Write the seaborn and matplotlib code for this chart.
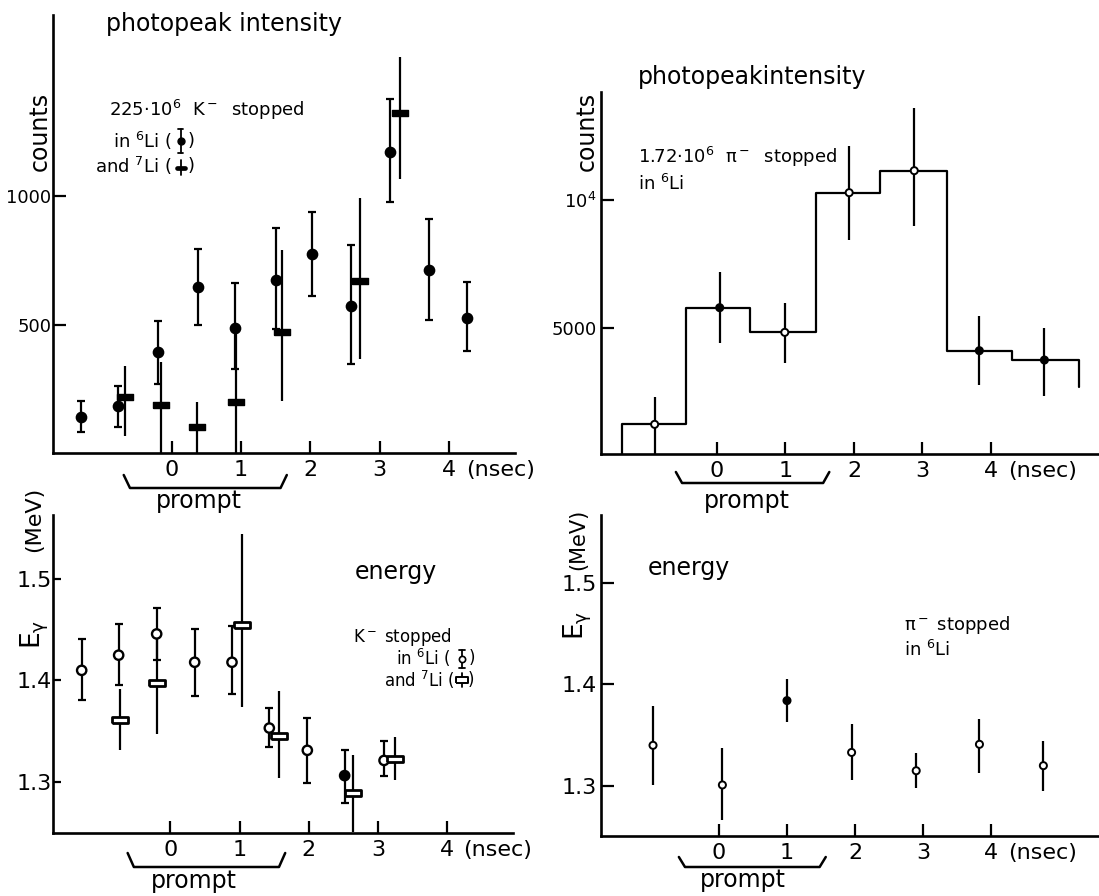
import numpy as np
import pandas as pd
import matplotlib
matplotlib.use("Agg")
import matplotlib.pyplot as plt
import seaborn as sns

# ---------------- data ----------------
tick_vals = [0, 1, 2, 3, 4]
tick_labels = ["0", "1", "2", "3", "4"]

# K- stopped, photopeak intensity, 6Li (filled circles)
k6_t = [-1.30, -0.77, -0.19, 0.38, 0.92, 1.50, 2.02, 2.58, 3.15, 3.71, 4.25]
k6_counts = [141, 184, 392, 648, 487, 674, 775, 574, 1171, 713, 526]
k6_hi = [204, 262, 512, 795, 661, 877, 938, 810, 1379, 912, 665]
k6_lo = [80, 103, 269, 499, 327, 481, 613, 347, 977, 516, 399]

# K- stopped, photopeak intensity, 7Li (thick bars)
k7_t = [-0.67, -0.15, 0.36, 0.93, 1.59, 2.71, 3.29]
k7_counts = [217, 187, 103, 197, 470, 671, 1325]
k7_hi = [340, 356, 200, 505, 791, 992, 1542]
k7_lo = [68, 0, 0, 0, 204, 366, 1068]

# pi- stopped in 6Li, photopeak intensity (histogram)
pi_edges = [-1.385, -0.45, 0.487, 1.446, 2.385, 3.36, 4.31, 5.28]
pi_heights = [1260, 5805, 4844, 10286, 11143, 4130, 3766]
pi_tail = 2730
pi_t = [-0.91, 0.04, 0.99, 1.93, 2.88, 3.83, 4.78]
pi_hi = [2338, 7208, 5974, 12117, 13571, 5480, 5000]
pi_lo = [104, 4416, 3636, 8442, 9000, 2792, 2377]
pi_filled = [False, True, False, False, False, True, True]

# K- stopped, energy, 6Li (open circles)
e6_t = [-1.285, -0.75, -0.20, 0.35, 0.89, 1.43, 1.98, 2.52, 3.09]
e6_E = [1.410, 1.425, 1.446, 1.418, 1.418, 1.353, 1.331, 1.306, 1.321]
e6_hi = [1.441, 1.456, 1.472, 1.451, 1.454, 1.373, 1.363, 1.331, 1.340]
e6_lo = [1.381, 1.396, 1.420, 1.385, 1.387, 1.334, 1.299, 1.279, 1.306]
e6_filled = [False, False, False, False, False, False, False, True, False]

# K- stopped, energy, 7Li (open bars)
e7_t = [-0.73, -0.19, 1.03, 1.57, 2.64, 3.25]
e7_E = [1.361, 1.398, 1.455, 1.345, 1.289, 1.322]
e7_hi = [1.392, 1.451, 1.545, 1.390, 1.326, 1.344]
e7_lo = [1.331, 1.347, 1.374, 1.304, 1.250, 1.302]

# pi- stopped in 6Li, energy
pe_t = [-0.97, 0.05, 1.00, 1.95, 2.90, 3.83, 4.77]
pe_E = [1.340, 1.301, 1.384, 1.333, 1.315, 1.341, 1.320]
pe_hi = [1.379, 1.337, 1.405, 1.361, 1.332, 1.366, 1.344]
pe_lo = [1.301, 1.267, 1.363, 1.306, 1.298, 1.3125, 1.295]
pe_filled = [False, False, True, False, False, False, False]

# ---------------- style ----------------
sns.set_theme(style="white")
plt.rcParams['font.family'] = ['DejaVu Sans']
plt.rcParams['mathtext.fontset'] = 'dejavusans'
plt.rcParams['mathtext.default'] = 'regular'
for key in ['text.color', 'axes.labelcolor', 'xtick.color', 'ytick.color',
            'axes.edgecolor']:
    plt.rcParams[key] = 'black'

W, H = 1099, 896
fig = plt.figure(figsize=(W / 100, H / 100), dpi=100, facecolor='white')


def box(l, t, r, b):
    return [l / W, 1 - b / H, (r - l) / W, (b - t) / H]


def P(x, y):
    return (x / W, 1 - y / H)


ax1 = fig.add_axes(box(53, 15, 515, 453))
ax2 = fig.add_axes(box(601, 92, 1099, 454))
ax3 = fig.add_axes(box(53, 515, 513, 833))
ax4 = fig.add_axes(box(601, 515, 1099, 836))

LW = 1.6


def style(ax, xlim, ylim, yticks, ylabels, ysize, ylen, ypad):
    ax.set_facecolor('none')
    ax.set_xlim(xlim)
    ax.set_ylim(ylim)
    for s in ['top', 'right']:
        ax.spines[s].set_visible(False)
    for s in ['left', 'bottom']:
        ax.spines[s].set_linewidth(1.9)
        ax.spines[s].set_color('black')
    ax.set_xticks(tick_vals)
    ax.set_xticklabels(tick_labels, fontsize=16)
    ax.tick_params(axis='x', direction='in', length=9, width=1.6, pad=5,
                   colors='black', bottom=True)
    ax.set_yticks(yticks)
    ax.set_yticklabels(ylabels, fontsize=ysize)
    ax.tick_params(axis='y', direction='in', length=ylen, width=1.6, pad=ypad,
                   colors='black', left=True)
    ax.set_xlabel('')
    ax.annotate("(nsec)", xy=(4, 0), xycoords=('data', 'axes fraction'),
                xytext=(12, -5), textcoords='offset points',
                ha='left', va='top', fontsize=16)


def errbars(ax, x, y, lo, hi, cap, lw=LW, z=2):
    y = np.asarray(y, float)
    yerr = [y - np.asarray(lo, float), np.asarray(hi, float) - y]
    ax.errorbar(x, y, yerr=yerr, fmt='none', ecolor='black', elinewidth=lw,
                capsize=cap, capthick=lw, zorder=z)


rect_fill = [(-1, -0.33), (1, -0.33), (1, 0.33), (-1, 0.33), (-1, -0.33)]
rect_open = [(-1, -0.42), (1, -0.42), (1, 0.42), (-1, 0.42), (-1, -0.42)]


def bracket(ax, x0, x1, ytop, yline, tx, ty):
    tr = matplotlib.transforms.blended_transform_factory(ax.transData, fig.transFigure)
    yt = 1 - ytop / H
    yl = 1 - yline / H
    ax.plot([x0, x0 + 0.09, x1 - 0.09, x1], [yt, yl, yl, yt], color='black',
            lw=1.8, transform=tr, clip_on=False, solid_capstyle='round')
    ax.text(tx, 1 - ty / H, "prompt", transform=tr, ha='center', va='center',
            fontsize=17)


# ---------------- panel 1: K- photopeak intensity ----------------
df_k6 = pd.DataFrame({'t': k6_t, 'counts': k6_counts, 'lo': k6_lo, 'hi': k6_hi})
df_k7 = pd.DataFrame({'t': k7_t, 'counts': k7_counts, 'lo': k7_lo, 'hi': k7_hi})
errbars(ax1, df_k6['t'], df_k6['counts'], df_k6['lo'], df_k6['hi'], cap=3)
errbars(ax1, df_k7['t'], df_k7['counts'], df_k7['lo'], df_k7['hi'], cap=0)
sns.scatterplot(data=df_k6, x='t', y='counts', ax=ax1, color='black', s=55,
                marker='o', edgecolor='black', linewidth=1, zorder=3, legend=False)
sns.scatterplot(data=df_k7, x='t', y='counts', ax=ax1, color='black', s=120,
                marker=rect_fill, edgecolor='black', linewidth=1, zorder=3, legend=False)
style(ax1, (-1.709, 4.948), (0, 1705), [500, 1000], ['500', '1000'], 13, 9, 1)
ax1.set_ylabel('counts', fontsize=17, rotation=90, ha='center', va='center')
ax1.yaxis.set_label_coords(-0.029, 0.735)
fig.text(*P(106, 24), "photopeak intensity", fontsize=17, ha='left', va='center')
fig.text(*P(109, 110), r"225$\cdot$10$^6$  K$^-$  stopped", fontsize=13,
         ha='left', va='center')
fig.text(*P(172, 141), r"in $^6$Li (", fontsize=13, ha='right', va='center')
fig.text(*P(188, 141), ")", fontsize=13, ha='left', va='center')
fig.text(*P(172, 166), r"and $^7$Li (", fontsize=13, ha='right', va='center')
fig.text(*P(188, 166), ")", fontsize=13, ha='left', va='center')
# legend glyphs
for (xa, ya), (xb, yb) in [((180.6, 129), (180.6, 153)), ((177.8, 129), (183.4, 129)),
                           ((177.8, 153), (183.4, 153)), ((180.6, 160), (180.6, 175))]:
    fig.add_artist(plt.Line2D([xa / W, xb / W], [1 - ya / H, 1 - yb / H],
                              color='black', lw=1.3))
fig.add_artist(plt.Line2D([180.6 / W], [1 - 141 / H], marker='o', ms=5,
                          color='black'))
fig.add_artist(plt.Line2D([176.5 / W, 184.7 / W], [1 - 168 / H, 1 - 168 / H],
                          color='black', lw=3.4))
bracket(ax1, -0.69, 1.66, 475, 488, 0.40, 501)

# ---------------- panel 2: pi- photopeak intensity ----------------
step_x = [pi_edges[0]]
step_y = [0]
for i, h in enumerate(pi_heights):
    step_x += [pi_edges[i], pi_edges[i + 1]]
    step_y += [h, h]
step_x.append(pi_edges[-1])
step_y.append(pi_tail)
df_step = pd.DataFrame({'t': step_x, 'counts': step_y})
sns.lineplot(data=df_step, x='t', y='counts', ax=ax2, estimator=None, sort=False,
             color='black', lw=1.6, zorder=2)
df_pi = pd.DataFrame({'t': pi_t, 'counts': pi_heights, 'lo': pi_lo, 'hi': pi_hi,
                      'filled': pi_filled})
errbars(ax2, df_pi['t'], df_pi['counts'], df_pi['lo'], df_pi['hi'], cap=0)
sns.scatterplot(data=df_pi, x='t', y='counts', hue='filled', ax=ax2,
                palette={True: 'black', False: 'white'}, s=26, marker='o',
                edgecolor='black', linewidth=1.4, zorder=3, legend=False)
style(ax2, (-1.693, 5.577), (105, 14208), [5000, 10000], ['5000', r'10$^4$'], 13, 9, 3)
ax2.set_ylabel('counts', fontsize=17, rotation=90, ha='center', va='center')
ax2.yaxis.set_label_coords(-0.028, 0.892)
fig.text(*P(638, 77), "photopeakintensity", fontsize=17, ha='left', va='center')
fig.text(*P(638, 157), r"1.72$\cdot$10$^6$  $\pi^-$  stopped", fontsize=13,
         ha='left', va='center')
fig.text(*P(638, 184), r"in $^6$Li", fontsize=13, ha='left', va='center')
bracket(ax2, -0.60, 1.64, 472, 483, 0.44, 501)

# ---------------- panel 3: K- energy ----------------
df_e6 = pd.DataFrame({'t': e6_t, 'E': e6_E, 'lo': e6_lo, 'hi': e6_hi, 'filled': e6_filled})
df_e7 = pd.DataFrame({'t': e7_t, 'E': e7_E, 'lo': e7_lo, 'hi': e7_hi})
errbars(ax3, df_e6['t'], df_e6['E'], df_e6['lo'], df_e6['hi'], cap=3.2)
errbars(ax3, df_e7['t'], df_e7['E'], df_e7['lo'], df_e7['hi'], cap=0)
sns.scatterplot(data=df_e6, x='t', y='E', hue='filled', ax=ax3,
                palette={True: 'black', False: 'white'}, s=45, marker='o',
                edgecolor='black', linewidth=1.7, zorder=3, legend=False)
sns.scatterplot(data=df_e7, x='t', y='E', ax=ax3, color='white', s=130,
                marker=rect_open, edgecolor='black', linewidth=2.0, zorder=3,
                legend=False)
style(ax3, (-1.70, 4.956), (1.2493, 1.5635), [1.3, 1.4, 1.5], ['1.3', '1.4', '1.5'],
      16, 6, 1)
ax3.set_ylabel(r"E$_\gamma$", fontsize=19, rotation=90, ha='center', va='center')
ax3.yaxis.set_label_coords(-0.040, 0.625)
ax3.text(-0.040, 0.985, "(MeV)", transform=ax3.transAxes, rotation=90,
         ha='center', va='center', fontsize=16)
fig.text(*P(355, 572), "energy", fontsize=17, ha='left', va='center')
fig.text(*P(353, 637), r"K$^-$ stopped", fontsize=12, ha='left', va='center')
fig.text(*P(451, 658), r"in $^6$Li (", fontsize=12, ha='right', va='center')
fig.text(*P(469, 658), ")", fontsize=12, ha='left', va='center')
fig.text(*P(455, 680), r"and $^7$Li (", fontsize=12, ha='right', va='center')
fig.text(*P(468, 680), ")", fontsize=12, ha='left', va='center')
for (xa, ya), (xb, yb) in [((461.5, 650), (461.5, 668)), ((458.5, 650), (464.5, 650)),
                           ((458.5, 668), (464.5, 668)), ((461.5, 673), (461.5, 687))]:
    fig.add_artist(plt.Line2D([xa / W, xb / W], [1 - ya / H, 1 - yb / H],
                              color='black', lw=1.3))
fig.add_artist(plt.Line2D([461.5 / W], [1 - 659 / H], marker='o', ms=4.5,
                          mfc='white', mec='black', mew=1.2, color='black'))
fig.add_artist(plt.Line2D([461.5 / W], [1 - 680 / H], marker=rect_open, ms=9,
                          mfc='white', mec='black', mew=1.4, color='black'))
bracket(ax3, -0.62, 1.66, 853, 867, 0.34, 881)

# ---------------- panel 4: pi- energy ----------------
df_pe = pd.DataFrame({'t': pe_t, 'E': pe_E, 'lo': pe_lo, 'hi': pe_hi, 'filled': pe_filled})
errbars(ax4, df_pe['t'], df_pe['E'], df_pe['lo'], df_pe['hi'], cap=0)
sns.scatterplot(data=df_pe, x='t', y='E', hue='filled', ax=ax4,
                palette={True: 'black', False: 'white'}, s=26, marker='o',
                edgecolor='black', linewidth=1.4, zorder=3, legend=False)
style(ax4, (-1.735, 5.588), (1.2508, 1.5666), [1.3, 1.4, 1.5], ['1.3', '1.4', '1.5'],
      16, 9, 3)
ax4.set_ylabel(r"E$_\gamma$", fontsize=19, rotation=90, ha='center', va='center')
ax4.yaxis.set_label_coords(-0.046, 0.655)
ax4.text(-0.046, 0.925, "(MeV)", transform=ax4.transAxes, rotation=90,
         ha='center', va='center', fontsize=15)
fig.text(*P(648, 568), "energy", fontsize=17, ha='left', va='center')
fig.text(*P(904, 625), r"$\pi^-$ stopped", fontsize=13, ha='left', va='center')
fig.text(*P(904, 650), r"in $^6$Li", fontsize=13, ha='left', va='center')
bracket(ax4, -0.59, 1.57, 857, 867, 0.35, 880)

for ax in (ax1, ax2, ax3, ax4):
    ax.set_xlabel('')

fig.savefig("out.png", dpi=100, facecolor='white')
